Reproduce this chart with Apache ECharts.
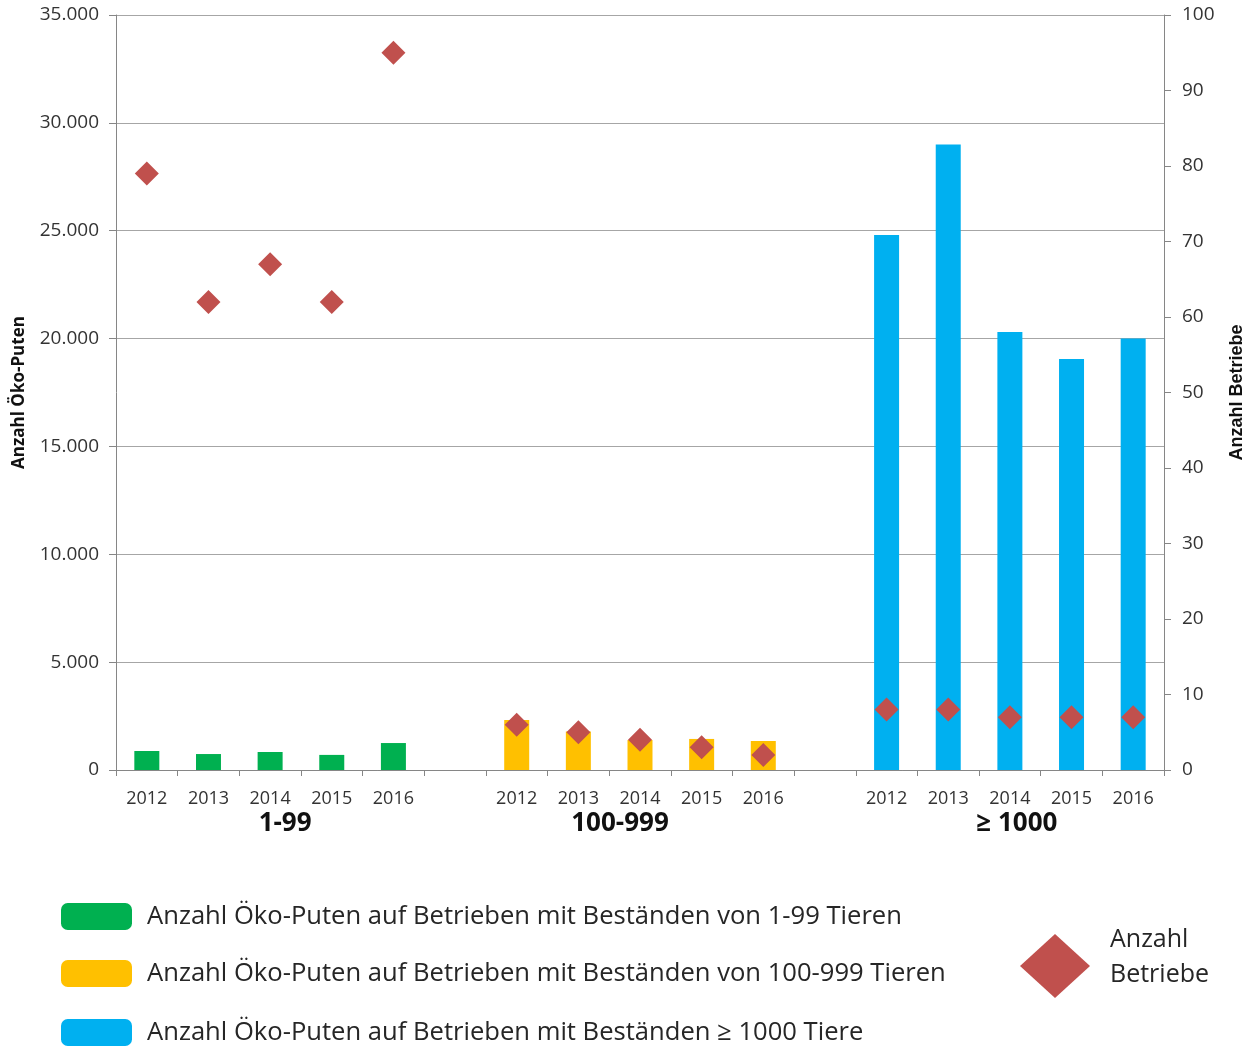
<!DOCTYPE html>
<html>
<head>
<meta charset="utf-8">
<script src="https://cdn.jsdelivr.net/npm/echarts@6/dist/echarts.min.js"></script>
<style>
  html, body { margin: 0; padding: 0; background: #fff; overflow: hidden; }
  #chart { width: 1245px; height: 1047px; }
</style>
</head>
<body>
<div id="chart"></div>
<script>
// Jahre je Bestandsgrößenklasse
const years = ['2012', '2013', '2014', '2015', '2016'];
const groupLabels = ['1-99', '100-999', '≥ 1000'];

// Anzahl Öko-Puten je Größenklasse (linke Achse)
const putenKlein = [880, 740, 835, 700, 1250];
const putenMittel = [2320, 1780, 1390, 1440, 1345];
const putenGross = [24800, 29000, 20300, 19050, 20000];

// Anzahl Betriebe (rechte Achse)
const betriebeKlein = [79, 62, 67, 62, 95];
const betriebeMittel = [6, 5, 4, 3, 2];
const betriebeGross = [8, 8, 7, 7, 7];

// Achsenbereiche
const leftTicks = { min: 0, max: 35000, interval: 5000 };
const rightTicks = { min: 0, max: 100, interval: 10 };

const seriesNames = [
  'Anzahl Öko-Puten auf Betrieben mit Beständen von 1-99 Tieren',
  'Anzahl Öko-Puten auf Betrieben mit Beständen von 100-999 Tieren',
  'Anzahl Öko-Puten auf Betrieben mit Beständen ≥ 1000 Tiere'
];
const seriesColors = ['#00b050', '#ffc000', '#00b0f0'];

// Kategorien: drei Gruppen mit je fünf Jahren, getrennt durch eine Leerspalte
const groupSize = years.length;
const categories = [];
groupLabels.forEach((g, gi) => {
  years.forEach(y => categories.push(y));
  if (gi < groupLabels.length - 1) categories.push('');
});

function place(values, groupIndex) {
  const out = categories.map(() => '-');
  values.forEach((v, i) => { out[groupIndex * (groupSize + 1) + i] = v; });
  return out;
}

const betriebe = categories.map(() => '-');
[betriebeKlein, betriebeMittel, betriebeGross].forEach((vals, gi) => {
  vals.forEach((v, i) => { betriebe[gi * (groupSize + 1) + i] = v; });
});

// Gruppenbeschriftung unter der mittleren Jahresspalte
const groupAxis = categories.map(() => '');
const groupShift = [[0, 0, 0, 30], [0, 40, 0, 0], [0, 0, 0, 14]];
groupLabels.forEach((g, gi) => {
  groupAxis[gi * (groupSize + 1) + 2] = { value: g, textStyle: { padding: groupShift[gi] } };
});

const fontMain = '"Open Sans", "DejaVu Sans", sans-serif';
const axisGray = '#868686';
const legendText = { fontSize: 25.6, color: '#262626', fontFamily: fontMain, lineHeight: 27, padding: [0, 0, 0, 10] };
const legendTops = [903, 960, 1019];

const barLegends = seriesNames.map((name, i) => ({
  orient: 'vertical',
  left: 61, top: legendTops[i], padding: 0,
  itemWidth: 71, itemHeight: 27,
  icon: 'roundRect',
  data: [name],
  textStyle: legendText
}));

const chart = echarts.init(document.getElementById('chart'), null, { width: 1245, height: 1047 });
chart.setOption({
  animation: false,
  textStyle: { fontFamily: fontMain },
  grid: { left: 116, right: 81, top: 15, bottom: 277, containLabel: false, outerBoundsMode: 'none' },
  xAxis: [
    {
      type: 'category',
      data: categories,
      position: 'bottom',
      axisLine: { lineStyle: { color: axisGray, width: 1 } },
      axisTick: { show: true, interval: 0, length: 6, lineStyle: { color: axisGray } },
      axisLabel: { interval: 0, margin: 20, fontSize: 18, color: '#333', fontFamily: fontMain }
    },
    {
      type: 'category',
      data: groupAxis,
      position: 'bottom',
      offset: 0,
      axisLine: { show: false },
      axisTick: { show: false },
      axisLabel: { interval: 0, margin: 41, fontSize: 26, fontWeight: 'bold', color: '#111', fontFamily: fontMain }
    }
  ],
  yAxis: [
    {
      type: 'value',
      min: leftTicks.min, max: leftTicks.max, interval: leftTicks.interval,
      name: 'Anzahl Öko-Puten',
      nameLocation: 'middle',
      nameGap: 88,
      nameTextStyle: { fontSize: 17, fontWeight: 'bold', color: '#111', fontFamily: fontMain },
      axisLine: { show: true, lineStyle: { color: axisGray } },
      axisTick: { show: true, length: 7, lineStyle: { color: axisGray } },
      axisLabel: {
        margin: 17, fontSize: 19, color: '#333', fontFamily: fontMain,
        formatter: v => v === 0 ? '0' : v.toLocaleString('de-DE')
      },
      splitLine: { show: true, lineStyle: { color: '#a6a6a6', width: 1 } }
    },
    {
      type: 'value',
      min: rightTicks.min, max: rightTicks.max, interval: rightTicks.interval,
      position: 'right',
      name: 'Anzahl Betriebe',
      nameLocation: 'middle',
      nameGap: 64,
      nameRotate: 90,
      nameTextStyle: { fontSize: 18, fontWeight: 'bold', color: '#111', fontFamily: '"Liberation Sans", Arial, sans-serif' },
      axisLine: { show: true, lineStyle: { color: axisGray } },
      axisTick: { show: true, length: 7, lineStyle: { color: axisGray } },
      axisLabel: { margin: 18, fontSize: 19, color: '#333', fontFamily: fontMain },
      splitLine: { show: false }
    }
  ],
  legend: barLegends.concat([
    {
      orient: 'vertical',
      left: 1020, top: 927, padding: 0,
      itemWidth: 70, itemHeight: 64,
      data: [{ name: 'Anzahl Betriebe', icon: 'diamond' }],
      formatter: () => '{t|Anzahl}\n{t|Betriebe}\n{s| }',
      textStyle: {
        color: '#262626', fontFamily: fontMain, fontSize: 25, padding: [0, 0, 0, 15],
        rich: {
          t: { fontSize: 25, lineHeight: 35, color: '#262626', fontFamily: fontMain },
          s: { fontSize: 10, lineHeight: 18 }
        }
      }
    }
  ]),
  series: [
    { name: seriesNames[0], type: 'bar', stack: 'puten', barWidth: 25, data: place(putenKlein, 0), itemStyle: { color: seriesColors[0] } },
    { name: seriesNames[1], type: 'bar', stack: 'puten', barWidth: 25, data: place(putenMittel, 1), itemStyle: { color: seriesColors[1] } },
    { name: seriesNames[2], type: 'bar', stack: 'puten', barWidth: 25, data: place(putenGross, 2), itemStyle: { color: seriesColors[2] } },
    {
      name: 'Anzahl Betriebe', type: 'scatter', yAxisIndex: 1, z: 5,
      symbol: 'diamond', symbolSize: 24,
      data: betriebe,
      itemStyle: { color: '#c0504d', opacity: 1 }
    }
  ]
});
</script>
</body>
</html>
